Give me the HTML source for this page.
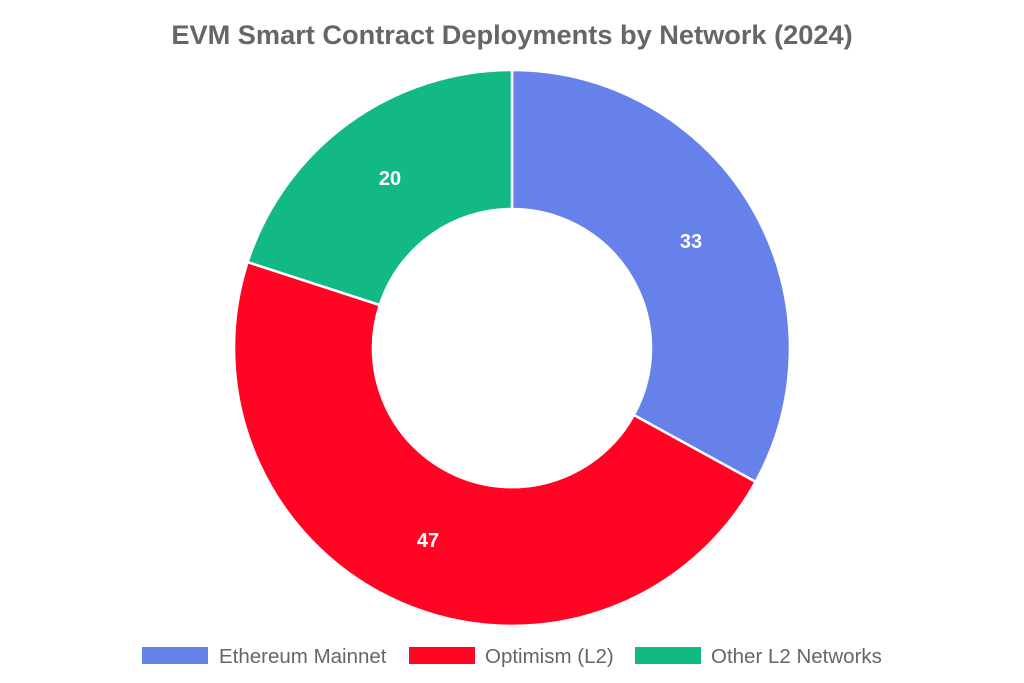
<!DOCTYPE html>
<html><head><meta charset="utf-8"><style>
html,body{margin:0;padding:0;background:#fff;}
svg{display:block;font-family:"Liberation Sans",Arial,sans-serif;}
</style></head><body>
<svg width="1024" height="683" viewBox="0 0 1024 683" xmlns="http://www.w3.org/2000/svg">
<rect width="1024" height="683" fill="#fff"/>
<text x="512" y="44" text-anchor="middle" font-size="27.2" font-weight="bold" fill="#666">EVM Smart Contract Deployments by Network (2024)</text>
<g stroke="#fff" stroke-width="2.5" stroke-linejoin="round">
<path d="M512,70 A278,278 0 0 1 755.6,481.9 L633.8,415 A139,139 0 0 0 512,209 Z" fill="#6681EA"/>
<path d="M755.6,481.9 A278,278 0 0 1 247.6,262.1 L379.8,305 A139,139 0 0 0 633.8,415 Z" fill="#FF0523"/>
<path d="M247.6,262.1 A278,278 0 0 1 512,70 L512,209 A139,139 0 0 0 379.8,305 Z" fill="#12B985"/>
</g>
<g font-size="20" font-weight="bold" fill="#fff" text-anchor="middle">
<text x="691" y="248">33</text>
<text x="428" y="547">47</text>
<text x="390" y="185">20</text>
</g>
<g font-size="20.5" fill="#666">
<rect x="142" y="647" width="66" height="17" fill="#6681EA"/>
<text x="219" y="663">Ethereum Mainnet</text>
<rect x="409" y="647" width="66" height="17" fill="#FF0523"/>
<text x="485" y="663">Optimism (L2)</text>
<rect x="635" y="647" width="66" height="17" fill="#12B985"/>
<text x="711" y="663">Other L2 Networks</text>
</g>
</svg>
</body></html>
